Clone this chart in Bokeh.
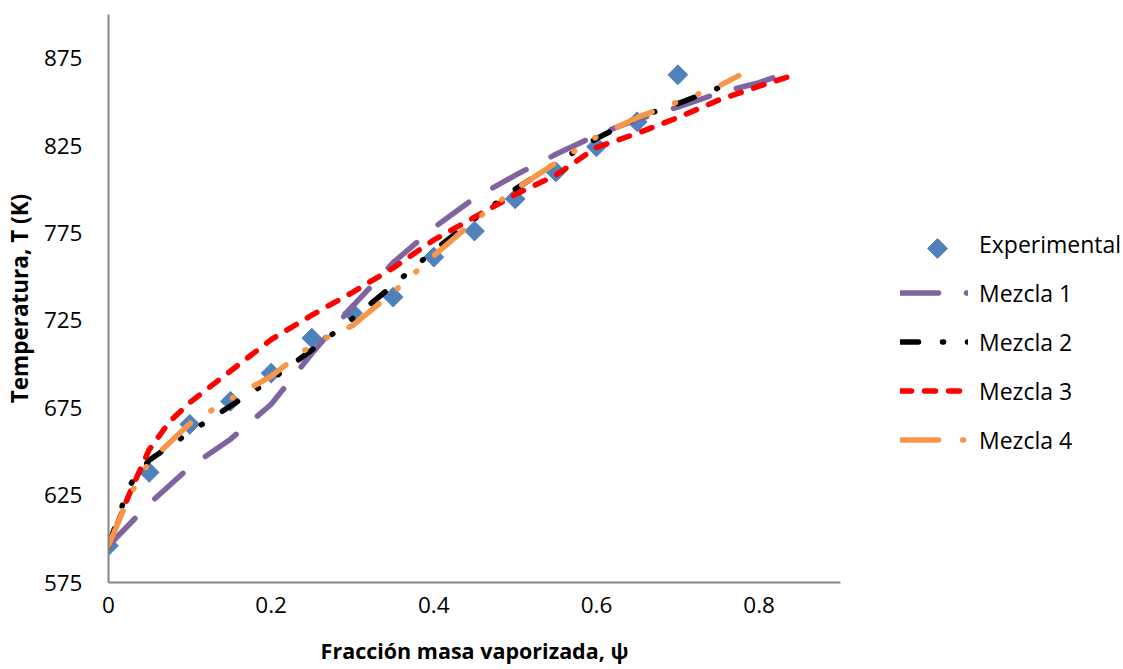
from bokeh.plotting import figure
from bokeh.layouts import row
from bokeh.models import Legend, LegendItem, FixedTicker, Range1d
from bokeh.embed import file_html
from bokeh.resources import INLINE
import math

# ---------------- data ----------------
exp_x = [0, 0.05, 0.1, 0.15, 0.2, 0.25, 0.3, 0.35, 0.4, 0.45, 0.5, 0.55, 0.6, 0.65, 0.7]
exp_T = [596, 638, 665.5, 678.7, 694.8, 714.8, 729.2, 738.3, 761.2, 776.1, 794.5, 809.9, 824.3, 838.6, 865.5]

m1_x = [0, 0.05, 0.1, 0.15, 0.2, 0.25, 0.3, 0.35, 0.4, 0.45, 0.5, 0.55, 0.6, 0.65, 0.7, 0.75, 0.8, 0.825]
m1_T = [596, 620, 641, 657, 677, 706, 733, 758, 778, 795, 808, 820, 831, 840, 847, 855, 861, 865]

m2_x = [0, 0.025, 0.05, 0.1, 0.15, 0.2, 0.25, 0.3, 0.35, 0.4, 0.45, 0.5, 0.55, 0.6, 0.65, 0.7, 0.75, 0.775]
m2_T = [596, 630, 645, 661, 676, 691, 708, 726, 745, 765, 783, 800, 815, 829, 841, 849, 858, 864]

m3_x = [0, 0.025, 0.05, 0.075, 0.1, 0.15, 0.2, 0.25, 0.3, 0.35, 0.4, 0.45, 0.5, 0.55, 0.6, 0.65, 0.7, 0.75, 0.8, 0.84]
m3_T = [596, 625, 651, 667, 678, 696, 714, 728, 741, 755, 771, 784, 797, 808, 824, 832, 841, 851, 859, 865]

m4_x = [0, 0.025, 0.05, 0.1, 0.15, 0.2, 0.25, 0.3, 0.35, 0.4, 0.45, 0.5, 0.55, 0.6, 0.65, 0.7, 0.75, 0.775]
m4_T = [596, 624, 644, 666, 680, 693, 711, 722, 741, 762, 782, 800, 815, 830, 841, 850, 859, 865]

x_ticks = [0, 0.2, 0.4, 0.6, 0.8]
x_tick_labels = ["0", "0.2", "0.4", "0.6", "0.8"]
y_ticks = [575, 625, 675, 725, 775, 825, 875]

series_names = ["Experimental", "Mezcla 1", "Mezcla 2", "Mezcla 3", "Mezcla 4"]

# ---------------- styles ----------------
FONT = "Open Sans"
EXP_COLOR = "#4F81BD"
LINE_STYLES = [
    dict(line_color="#8064A2", line_dash="38 28"),
    dict(line_color="#000000", line_dash="18 24 1 24 1 24"),
    dict(line_color="#FF0000", line_dash="11 13"),
    dict(line_color="#F79646", line_dash="38 24 1 24 1 24"),
]
LW = 5.5
MARKER_SIZE = 14

# ---------------- layout ----------------
W_TOTAL, H_PX = 1123, 669
LEFT, TOP, BOTTOM = 108, 14, 582
MAIN_W = 842
X_MAX, Y_MIN, Y_MAX = 0.9, 575, 900

p = figure(width=MAIN_W, height=H_PX, output_backend="svg", toolbar_location=None,
           x_range=Range1d(0, X_MAX), y_range=Range1d(Y_MIN, Y_MAX),
           min_border_left=LEFT, min_border_right=MAIN_W - 840, min_border_top=TOP,
           min_border_bottom=H_PX - BOTTOM)
p.outline_line_color = None
p.xgrid.visible = False
p.ygrid.visible = False
p.background_fill_color = "white"
p.border_fill_color = "white"

for ax in (p.xaxis[0], p.yaxis[0]):
    ax.axis_line_color = "#868686"
    ax.axis_line_width = 2
    ax.major_tick_out = 0
    ax.major_tick_in = 0
    ax.minor_tick_out = 0
    ax.minor_tick_in = 0
    ax.major_label_text_font = FONT
    ax.major_label_text_font_size = "22.5px"
    ax.major_label_text_color = "#000000"
    ax.axis_label_text_font = FONT
    ax.axis_label_text_font_style = "bold"
    ax.axis_label_text_color = "#000000"

p.xaxis.ticker = FixedTicker(ticks=x_ticks)
p.xaxis.major_label_overrides = {t: l for t, l in zip(x_ticks, x_tick_labels)}
p.yaxis.ticker = FixedTicker(ticks=y_ticks)
p.xaxis.axis_label = "Fracción masa vaporizada, ψ"
p.yaxis.axis_label = "Temperatura, T (K)"
p.xaxis.axis_label_text_font_size = "21.5px"
p.yaxis.axis_label_text_font_size = "22.5px"
p.xaxis.major_label_standoff = 14
p.xaxis.axis_label_standoff = 20
p.yaxis.major_label_standoff = 26
p.yaxis.axis_label_standoff = 6

# ---------------- glyphs ----------------
p.scatter(exp_x, exp_T, marker="square", size=MARKER_SIZE, angle=math.pi / 4,
          fill_color=EXP_COLOR, line_color=EXP_COLOR)
for xs, ts, st in zip([m1_x, m2_x, m3_x, m4_x], [m1_T, m2_T, m3_T, m4_T], LINE_STYLES):
    p.line(xs, ts, line_width=LW, line_cap="round", line_join="round", **st)

# ---------------- legend panel (right) ----------------
# Its frame has the same vertical extent as the main frame; its data units are page pixels
# (x from the panel's left edge, y from the page's bottom edge).
LEG_W = W_TOTAL - MAIN_W
LEG_X0 = 900 - MAIN_W          # glyph start inside legend panel
GLYPH_W, ITEM_H, SPACING = 68, 31, 17
LABEL_STANDOFF = 11
FIRST_ITEM_CENTER = 248        # from the top of the page
leg_top = FIRST_ITEM_CENTER - ITEM_H / 2
leg_h = 5 * ITEM_H + 4 * SPACING
leg_bottom_offset = BOTTOM - (leg_top + leg_h)   # measured from the frame bottom

q = figure(width=LEG_W, height=H_PX, output_backend="svg", toolbar_location=None,
           x_range=Range1d(0, LEG_W), y_range=Range1d(H_PX - BOTTOM, H_PX - TOP),
           x_axis_type=None, y_axis_type=None,
           min_border_left=0, min_border_right=0, min_border_top=TOP,
           min_border_bottom=H_PX - BOTTOM)
q.outline_line_color = None
q.xgrid.visible = False
q.ygrid.visible = False
q.background_fill_color = "white"
q.border_fill_color = "white"

NAN = float("nan")
# legend-only renderers (they hold no visible data)
r_exp = q.scatter([NAN], [NAN], marker="square", size=MARKER_SIZE, fill_alpha=0, line_alpha=0)
line_rs = [q.line([NAN, NAN], [NAN, NAN], line_width=LW, line_cap="round",
                  line_join="round", **st) for st in LINE_STYLES]
# diamond symbol for the "Experimental" legend slot
q.scatter([LEG_X0 + GLYPH_W / 2 + 3], [H_PX - FIRST_ITEM_CENTER], marker="square",
          size=MARKER_SIZE, angle=math.pi / 4, fill_color=EXP_COLOR, line_color=EXP_COLOR)

legend = Legend(items=[LegendItem(label=n, renderers=[r]) for n, r in
                       zip(series_names, [r_exp] + line_rs)],
                location=(LEG_X0, leg_bottom_offset), orientation="vertical")
legend.glyph_width = GLYPH_W
legend.glyph_height = ITEM_H
legend.label_height = ITEM_H
legend.label_standoff = LABEL_STANDOFF
legend.spacing = SPACING
legend.padding = 0
legend.margin = 0
legend.border_line_color = None
legend.background_fill_alpha = 0
legend.label_text_font = FONT
legend.label_text_font_size = "23px"
legend.label_text_color = "#000000"
q.add_layout(legend, "center")

layout = row(p, q)
open("out.html", "w").write(file_html(layout, INLINE))
